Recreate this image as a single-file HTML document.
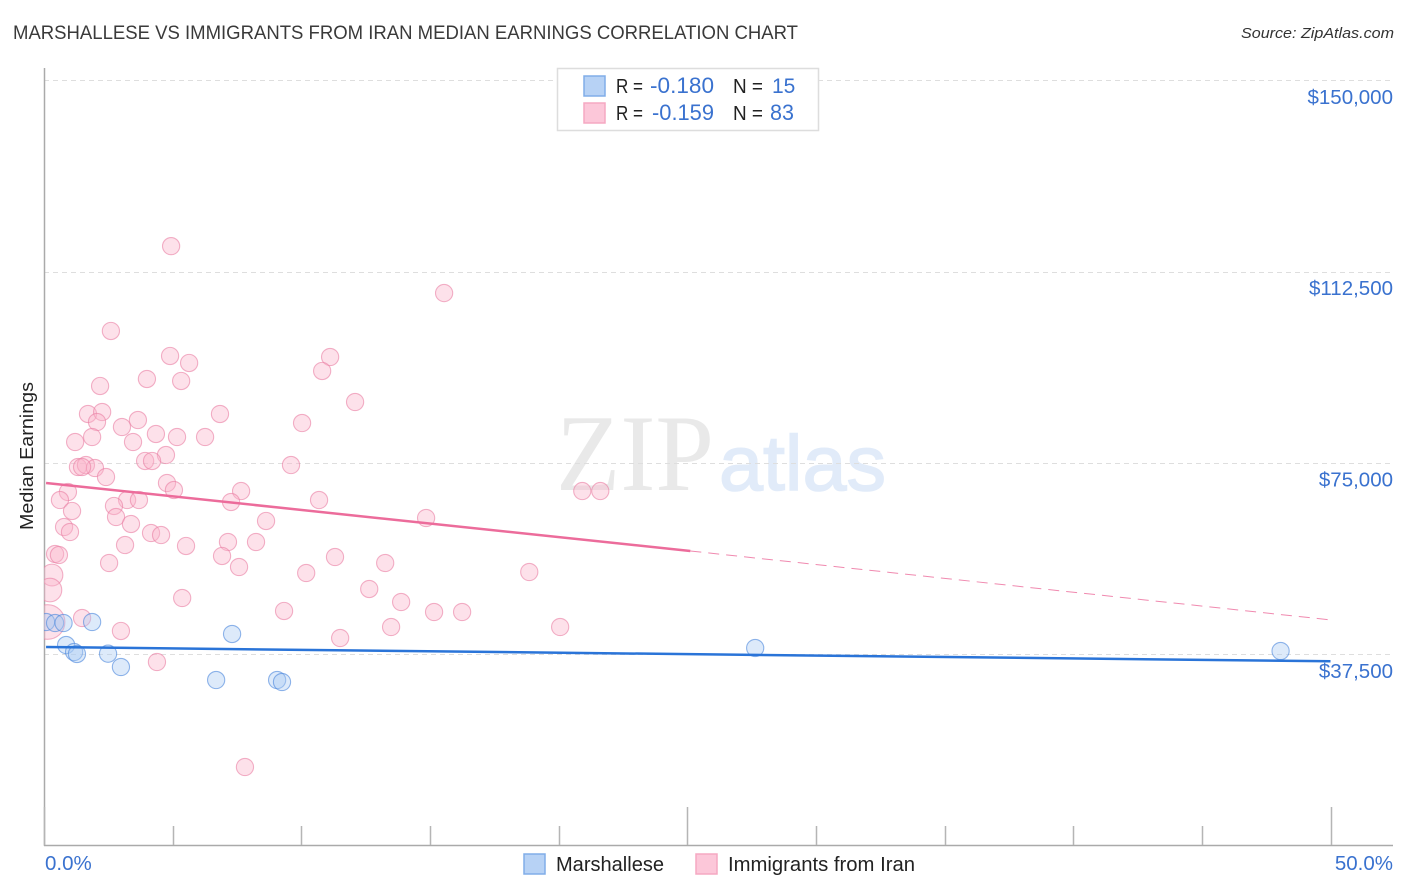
<!DOCTYPE html>
<html lang="en">
<head>
<meta charset="utf-8">
<title>Marshallese vs Immigrants from Iran Median Earnings Correlation Chart</title>
<style>
html,body{margin:0;padding:0;background:#fff;}
svg{display:block;font-family:"Liberation Sans",sans-serif;}
</style>
</head>
<body>
<svg id="chart" xmlns="http://www.w3.org/2000/svg" width="1406" height="892" viewBox="0 0 1406 892">
  <rect x="0" y="0" width="1406" height="892" fill="#ffffff"/>
  <text x="13" y="39" font-size="19" fill="#3a3a3a" textLength="785" lengthAdjust="spacingAndGlyphs">MARSHALLESE VS IMMIGRANTS FROM IRAN MEDIAN EARNINGS CORRELATION CHART</text>
  <text x="1241" y="38" font-size="15" font-style="italic" fill="#333333" textLength="153" lengthAdjust="spacingAndGlyphs">Source: ZipAtlas.com</text>

  <g>
    <text x="556" y="490" font-family="'Liberation Serif',serif" font-size="109" fill="#e9e9e9" textLength="158" lengthAdjust="spacingAndGlyphs">ZIP</text>
    <text x="719" y="490" font-family="'Liberation Sans',sans-serif" font-size="78" fill="#e1ebf9" stroke="#e1ebf9" stroke-width="1.5" textLength="167" lengthAdjust="spacingAndGlyphs">atlas</text>
  </g>

  <g id="grid"></g>
  <g id="axes"></g>
  <svg x="44" y="60" width="1350" height="786" viewBox="44 60 1350 786" overflow="hidden">
    <g id="pink-points"></g>
    <g id="blue-points"></g>
  </svg>
  <g id="trends"></g>
  <g id="labels"></g>

  <text transform="translate(33,530) rotate(-90)" font-size="18" fill="#222222" textLength="148" lengthAdjust="spacingAndGlyphs">Median Earnings</text>

  <g>
    <rect x="557.5" y="68.5" width="261" height="62" fill="#ffffff" stroke="#dddddd" stroke-width="1.5"/>
    <rect x="584" y="76" width="21" height="20" fill="#b7d2f5" stroke="#80ade8" stroke-width="1.5"/>
    <rect x="584" y="103" width="21" height="20" fill="#fcc7d9" stroke="#f5a8c2" stroke-width="1.5"/>
    <text x="616" y="93" font-size="20" fill="#222222" textLength="27" lengthAdjust="spacingAndGlyphs">R =</text>
    <text x="650" y="93" font-size="22" fill="#3a72cf" textLength="64" lengthAdjust="spacingAndGlyphs">-0.180</text>
    <text x="733" y="93" font-size="20" fill="#222222" textLength="30" lengthAdjust="spacingAndGlyphs">N =</text>
    <text x="772" y="93" font-size="21" fill="#3a72cf">15</text>
    <text x="616" y="120" font-size="20" fill="#222222" textLength="27" lengthAdjust="spacingAndGlyphs">R =</text>
    <text x="652" y="120" font-size="22" fill="#3a72cf" textLength="62" lengthAdjust="spacingAndGlyphs">-0.159</text>
    <text x="733" y="120" font-size="20" fill="#222222" textLength="30" lengthAdjust="spacingAndGlyphs">N =</text>
    <text x="770" y="120" font-size="22" fill="#3a72cf" textLength="24" lengthAdjust="spacingAndGlyphs">83</text>
  </g>

  <g>
    <rect x="524" y="854" width="21" height="20" fill="#b7d2f5" stroke="#80ade8" stroke-width="1.5"/>
    <text x="556" y="871" font-size="20" fill="#222222" textLength="108" lengthAdjust="spacingAndGlyphs">Marshallese</text>
    <rect x="696" y="854" width="21" height="20" fill="#fcc7d9" stroke="#f5a8c2" stroke-width="1.5"/>
    <text x="728" y="871" font-size="20" fill="#222222" textLength="187" lengthAdjust="spacingAndGlyphs">Immigrants from Iran</text>
  </g>
</svg>
<script>
// Axis ticks
const yTickValues = [150000, 112500, 75000, 37500];
const yTickLabels = ["$150,000", "$112,500", "$75,000", "$37,500"];
const xTickValues = [0, 5, 10, 15, 20, 25, 30, 35, 40, 45, 50];
const xMajorTicks = [0, 25, 50];
const xEndValues = [0, 50];
const xEndLabels = ["0.0%", "50.0%"];

// Marshallese (percent, earnings)
const blueX = [0.08, 0.43, 0.76, 1.87, 0.86, 1.17, 1.28, 2.49, 2.99, 7.31, 6.69, 9.06, 9.25, 27.64, 48.06];
const blueY = [43830, 43635, 43635, 43830, 39320, 37950, 37560, 37620, 35010, 41480, 32460, 32460, 32070, 38735, 38147];

// Immigrants from Iran (percent, earnings)
const pinkX = [4.94, 15.55, 2.60, 4.90, 5.64, 11.12, 10.81, 4.00, 5.33, 2.18, 12.09, 1.71, 2.26, 6.84, 3.65, 2.06, 3.03, 10.03, 4.35, 1.21, 1.87, 5.17, 6.26, 3.46, 4.74, 3.93, 4.20, 9.60, 1.32, 1.63, 1.98, 1.48, 2.41, 4.78, 5.05, 0.93, 7.66, 0.62, 7.27, 3.23, 3.69, 10.69, 2.72, 1.09, 2.80, 3.38, 8.63, 14.85, 0.78, 1.01, 4.16, 4.55, 7.15, 3.15, 5.52, 8.24, 0.43, 0.58, 6.92, 11.31, 2.53, 7.58, 13.26, 10.19, 18.86, 20.92, 21.62, 12.64, 5.37, 13.88, 9.33, 15.16, 16.25, 1.48, 13.49, 20.06, 2.99, 11.51, 4.39, 7.81];
const pinkY = [117500, 108300, 100870, 95970, 94600, 95770, 93030, 91460, 91070, 90090, 86950, 84600, 84990, 84600, 83420, 83030, 82050, 82830, 80680, 79110, 80090, 80090, 80090, 79110, 76560, 75390, 75390, 74600, 74210, 74600, 74015, 74210, 72250, 71075, 69700, 69310, 69500, 67740, 67350, 67740, 67740, 67740, 66570, 65590, 64410, 63040, 63630, 64215, 62450, 61470, 61275, 60880, 59510, 58920, 58730, 59510, 57160, 56960, 56770, 56570, 55395, 54610, 55395, 53435, 53630, 69500, 69500, 50300, 48535, 47750, 45990, 45790, 45790, 44615, 42850, 42850, 42070, 40695, 35990, 15410];

// Heavily weighted Iran points near the axis
const pinkHeavyX = [0.31, 0.23, 0.14];
const pinkHeavyY = [53040, 50100, 43830];
const pinkHeavyWeight = [1.6, 1.9, 4.05];

// Trend lines
const blueTrendX = [0.08, 50];
const blueTrendY = [38930, 36130];
const pinkTrendX = [0.08, 25.12];
const pinkTrendY = [71075, 57750];
const pinkDashX = [25.12, 50.04];
const pinkDashY = [57750, 44220];

const NS = "http://www.w3.org/2000/svg";
function xScale(p) { return 44 + p * 25.73; }
function yScale(v) { return 654.3 - (v - 37500) / 196; }
function mk(parent, tag, attrs) {
  const el = document.createElementNS(NS, tag);
  for (const k in attrs) el.setAttribute(k, attrs[k]);
  parent.appendChild(el);
  return el;
}

const grid = document.getElementById("grid");
const labels = document.getElementById("labels");
yTickValues.forEach(function (v, i) {
  const y = Math.round(yScale(v)) + 0.5;
  const line = mk(grid, "line", { x1: 44, x2: 1393, y1: y, y2: y, stroke: "#dedede", "stroke-width": 1, "stroke-dasharray": "5 4" });
  
  
  const t = mk(labels, "text", { x: 1393, y: yScale(v) + 23.5, "text-anchor": "end", "font-size": 20.5, fill: "#3a72cf" });
  t.textContent = yTickLabels[i];
  
  
});

const axes = document.getElementById("axes");
const yAxis = mk(axes, "line", { x1: 44.5, x2: 44.5, y1: 68, y2: 846, stroke: "#aaaaaa", "stroke-width": 1.5 });


const xAxis = mk(axes, "line", { x1: 44, x2: 1393, y1: 845.5, y2: 845.5, stroke: "#aaaaaa", "stroke-width": 1.5 });


xTickValues.forEach(function (p) {
  const x = Math.round(xScale(p)) + 0.5;
  const top = xMajorTicks.indexOf(p) >= 0 ? 807 : 826;
  const tick = mk(axes, "line", { x1: x, x2: x, y1: top, y2: 845, stroke: "#b5b5b5", "stroke-width": 1.5 });
  
  
});
xEndValues.forEach(function (p, i) {
  const t = mk(labels, "text", { x: i === 0 ? 45 : 1393, y: 870, "text-anchor": i === 0 ? "start" : "end", "font-size": 20.5, fill: "#3a72cf" });
  t.textContent = xEndLabels[i];
  
  
});

function drawPoint(group, p, v, r, fill, stroke, name) {
  const c = mk(group, "circle", { cx: xScale(p), cy: yScale(v), r: r, fill: fill, "fill-opacity": 0.4, stroke: stroke, "stroke-opacity": 0.6, "stroke-width": 1.1 });
  
  
}
const pinkGroup = document.getElementById("pink-points");
const blueGroup = document.getElementById("blue-points");
const baseRadius = 8.6;
pinkHeavyX.forEach(function (p, i) {
  drawPoint(pinkGroup, p, pinkHeavyY[i], baseRadius * Math.sqrt(pinkHeavyWeight[i]), "#f9b4cb", "#ea7fa3", "iran-point-heavy");
});
pinkX.forEach(function (p, i) {
  drawPoint(pinkGroup, p, pinkY[i], baseRadius, "#f9b4cb", "#ea7fa3", "iran-point");
});
blueX.forEach(function (p, i) {
  drawPoint(blueGroup, p, blueY[i], baseRadius, "#a9cbf3", "#4a86dc", "marshallese-point");
});

const trends = document.getElementById("trends");
const dashLine = mk(trends, "line", { x1: xScale(pinkDashX[0]), y1: yScale(pinkDashY[0]), x2: xScale(pinkDashX[1]), y2: yScale(pinkDashY[1]), stroke: "#ec6c9b", "stroke-width": 1, "stroke-dasharray": "11 7", "stroke-opacity": 0.8 });


const pinkLine = mk(trends, "line", { x1: xScale(pinkTrendX[0]), y1: yScale(pinkTrendY[0]), x2: xScale(pinkTrendX[1]), y2: yScale(pinkTrendY[1]), stroke: "#ec6c9b", "stroke-width": 2.5 });


const blueLine = mk(trends, "line", { x1: xScale(blueTrendX[0]), y1: yScale(blueTrendY[0]), x2: xScale(blueTrendX[1]), y2: yScale(blueTrendY[1]), stroke: "#2a74d8", "stroke-width": 2.5 });


</script>
</body>
</html>
